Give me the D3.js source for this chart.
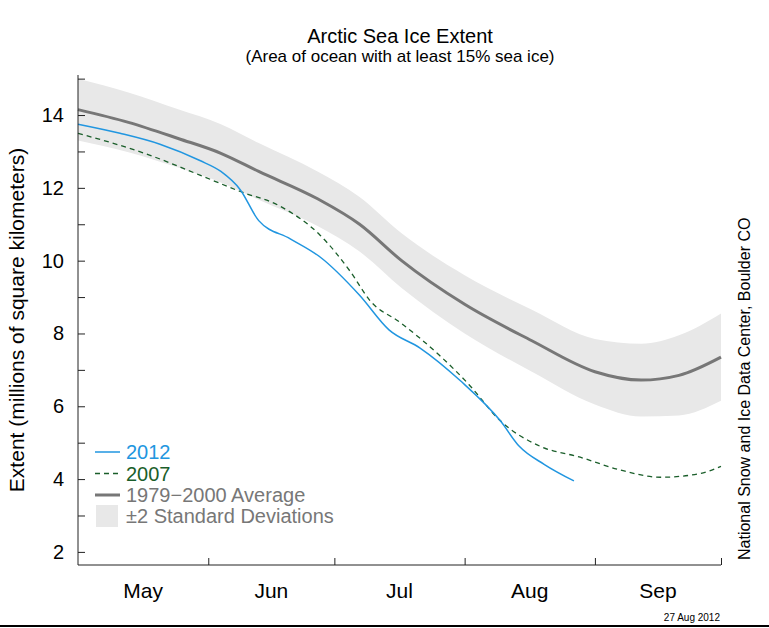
<!DOCTYPE html>
<html><head><meta charset="utf-8">
<script src="https://cdn.jsdelivr.net/npm/d3@7"></script>
<style>body{margin:0;background:#fff;font-family:"Liberation Sans",Arial,sans-serif}</style>
</head><body>
<script>
// days since May 1
var avgDays = [0, 12, 24, 34, 43, 57, 67, 77, 92, 108, 123, 134, 143, 153];
var avgVals = [14.15, 13.8, 13.35, 12.95, 12.45, 11.7, 11.0, 10.0, 8.8, 7.8, 6.95, 6.72, 6.85, 7.35];
var sdVals  = [0.85, 0.82, 0.8, 0.8, 0.78, 0.75, 0.75, 0.75, 0.8, 0.85, 0.9, 1.0, 1.1, 1.2];
var d2012 = [0, 10, 19.5, 29, 34, 38.6, 43, 50.5, 57.6, 67, 74, 81.4, 91, 100.5, 105, 111, 118];
var v2012 = [13.75, 13.5, 13.2, 12.75, 12.45, 11.95, 11.1, 10.6, 10.1, 9.05, 8.1, 7.6, 6.7, 5.6, 4.9, 4.4, 3.95];
var d2007 = [0, 17, 29, 38.6, 48, 57.6, 64.8, 69.5, 76.7, 86, 93, 100.5, 110, 119.5, 129, 138.6, 148, 153];
var v2007 = [13.5, 12.9, 12.35, 11.9, 11.5, 10.7, 9.7, 8.9, 8.3, 7.4, 6.6, 5.6, 4.9, 4.6, 4.25, 4.05, 4.15, 4.35];
var monthStarts = [31, 61, 92, 123, 153];
var monthNames = ["May", "Jun", "Jul", "Aug", "Sep"];
var monthMids = [15.5, 46, 76.5, 107.5, 138];

var W = 769, H = 628, L = 78, R = 721, T = 75, B = 565;
var svg = d3.select("body").append("svg").attr("width", W).attr("height", H);
var x = d3.scaleLinear().domain([0, 153]).range([L, R]);
var y = d3.scaleLinear().domain([1.64, 15.1]).range([B, T]);

var curve = d3.curveMonotoneX;
var band = d3.area().curve(curve)
    .x(function(d, i) { return x(avgDays[i]); })
    .y0(function(d, i) { return y(avgVals[i] - sdVals[i]); })
    .y1(function(d, i) { return y(avgVals[i] + sdVals[i]); });
svg.append("path").attr("d", band(avgVals)).attr("fill", "#e8e8e8");

function line(days, vals) {
  return d3.line().curve(curve)
    .x(function(d, i) { return x(days[i]); })
    .y(function(d) { return y(d); })(vals);
}
svg.append("path").attr("d", line(avgDays, avgVals)).attr("fill", "none")
  .attr("stroke", "#777").attr("stroke-width", 3);
svg.append("path").attr("d", line(d2007, v2007)).attr("fill", "none")
  .attr("stroke", "#1a5e2a").attr("stroke-width", 1.3).attr("stroke-dasharray", "5,4");
svg.append("path").attr("d", line(d2012, v2012)).attr("fill", "none")
  .attr("stroke", "#2196e0").attr("stroke-width", 1.5);

// axes
svg.append("g").attr("transform", "translate(" + L + ",0)")
  .call(d3.axisLeft(y).tickValues(d3.range(2, 16)).tickSize(7).tickSizeOuter(0)
    .tickFormat(function(d) { return d % 2 ? "" : d; }))
  .call(function(g) {
    g.select(".domain").attr("d", "M0," + T + "V" + B).attr("stroke", "#222");
    g.selectAll(".tick line").attr("x2", 7).attr("stroke", "#222");
    g.selectAll("text").attr("x", -14).attr("font-size", 20).attr("fill", "#000")
      .style("font-family", "Liberation Sans");
  });
svg.append("g").attr("transform", "translate(0," + B + ")")
  .call(d3.axisBottom(x).tickValues(monthStarts).tickSize(0).tickFormat(""))
  .call(function(g) {
    g.select(".domain").attr("d", "M" + L + ",0H" + R).attr("stroke", "#222");
    g.selectAll(".tick line").attr("y2", -7).attr("stroke", "#222");
  });
svg.selectAll("text.month").data(monthNames).enter().append("text")
  .attr("x", function(d, i) { return x(monthMids[i]); }).attr("y", 598)
  .attr("text-anchor", "middle").attr("font-size", 21).text(function(d) { return d; });

// titles
svg.append("text").attr("x", 400).attr("y", 43).attr("text-anchor", "middle")
  .attr("font-size", 20).text("Arctic Sea Ice Extent");
svg.append("text").attr("x", 400).attr("y", 62).attr("text-anchor", "middle")
  .attr("font-size", 17).text("(Area of ocean with at least 15% sea ice)");
svg.append("text").attr("transform", "translate(24," + (T + B) / 2 + ")rotate(-90)")
  .attr("text-anchor", "middle").attr("font-size", 21).text("Extent (millions of square kilometers)");
svg.append("text").attr("transform", "translate(750,560)rotate(-90)")
  .attr("font-size", 16).text("National Snow and Ice Data Center, Boulder CO");
svg.append("text").attr("x", 720).attr("y", 621).attr("text-anchor", "end")
  .attr("font-size", 10).text("27 Aug 2012");
svg.append("line").attr("x1", 0).attr("x2", W).attr("y1", 626).attr("y2", 626)
  .attr("stroke", "#000").attr("stroke-width", 2);

// legend
var lg = svg.append("g");
var items = [
  {t: "2012", c: "#2196e0", w: 1.5, dash: null},
  {t: "2007", c: "#1a5e2a", w: 1.3, dash: "5,4"},
  {t: "1979\u22122000 Average", c: "#777", w: 3, dash: null}
];
items.forEach(function(it, i) {
  var yy = 452 + i * 21.5;
  lg.append("line").attr("x1", 95).attr("x2", 120).attr("y1", yy).attr("y2", yy)
    .attr("stroke", it.c).attr("stroke-width", it.w).attr("stroke-dasharray", it.dash);
  lg.append("text").attr("x", 126).attr("y", yy + 7).attr("font-size", 20)
    .attr("fill", it.c).text(it.t);
});
lg.append("rect").attr("x", 96).attr("y", 505).attr("width", 22).attr("height", 22).attr("fill", "#e8e8e8");
lg.append("text").attr("x", 126).attr("y", 523).attr("font-size", 20).attr("fill", "#777")
  .text("\u00b12 Standard Deviations");
</script>
</body></html>
